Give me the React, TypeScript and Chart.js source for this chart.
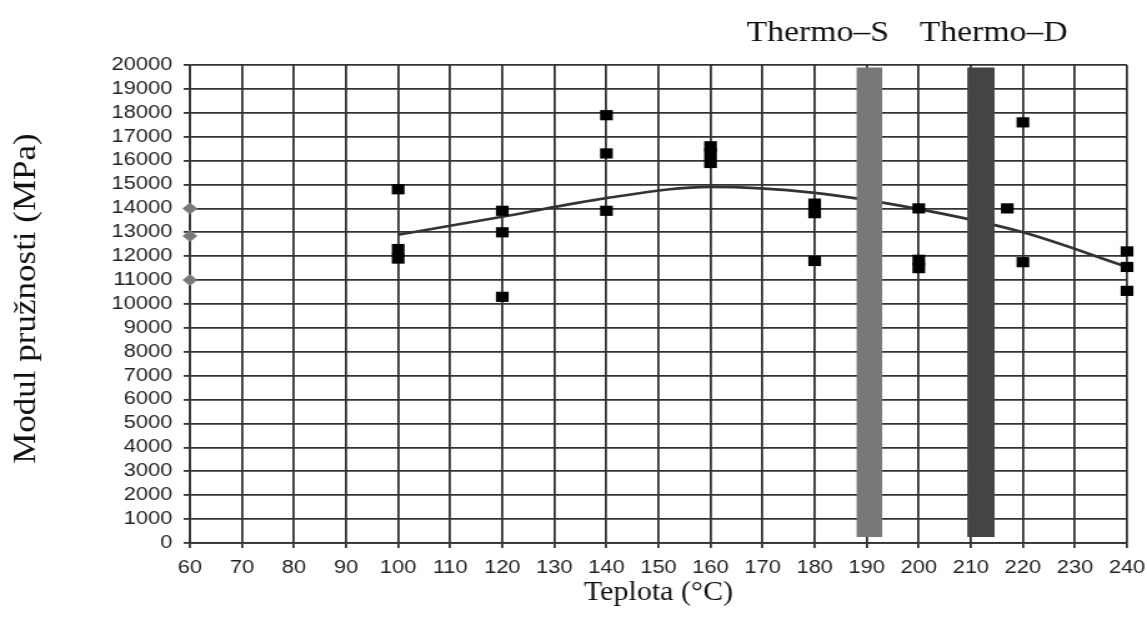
import { useEffect, useRef } from 'react';
import { Chart, registerables } from 'chart.js';

Chart.register(...registerables);

// Axis ticks
const xTicks = [60, 70, 80, 90, 100, 110, 120, 130, 140, 150, 160, 170, 180, 190, 200, 210, 220, 230, 240];
const yTicks = [0, 1000, 2000, 3000, 4000, 5000, 6000, 7000, 8000, 9000, 10000, 11000, 12000, 13000, 14000, 15000, 16000, 17000, 18000, 19000, 20000];

// Measured specimens: temperature (°C) and modulus of elasticity (MPa)
const sampleTemps = [100, 100, 100, 120, 120, 120, 140, 140, 140, 160, 160, 160, 180, 180, 180, 200, 200, 200, 217, 220, 220, 240, 240, 240];
const sampleModulus = [14800, 12300, 11900, 13900, 13000, 10300, 17900, 16300, 13900, 16600, 16300, 15900, 14200, 13800, 11800, 14000, 11850, 11500, 14000, 17600, 11750, 12200, 11550, 10550];

// Untreated reference specimens
const referenceTemps = [60, 60, 60];
const referenceModulus = [14000, 12850, 11000];

// Smoothed trend
const trendTemps = [100, 120, 140, 160, 180, 200, 220, 240];
const trendModulus = [12900, 13650, 14430, 14900, 14650, 13970, 13000, 11550];

// Treatment zones
const zoneNames = ['Thermo–S', 'Thermo–D'];
const zoneFrom = [188, 209.3];
const zoneTo = [193, 214.6];
const zoneLow = 250;
const zoneHigh = 19900;
const zoneColors = ['#787878', '#444444'];
const zoneLabelAt = [180.6, 214.4];

const xTitle = 'Teplota (°C)';
const yTitle = 'Modul pružnosti (MPa)';

const CANVAS_W = 918;
const CANVAS_H = 625;
const STRETCH = 1147 / CANVAS_W;

const tickFont = { family: '"Liberation Sans", Arial, sans-serif', size: 17.5 };
const serif = '"Liberation Serif", "Times New Roman", serif';

// Serif captions are drawn narrower so the page stretch leaves them at natural proportions.
function caption(
  ctx: CanvasRenderingContext2D,
  text: string,
  x: number,
  y: number,
  size: number,
  squeeze: number,
  rotate = false,
) {
  ctx.save();
  ctx.translate(x, y);
  ctx.scale(squeeze, 1);
  if (rotate) ctx.rotate(-Math.PI / 2);
  ctx.font = `${size}px ${serif}`;
  ctx.fillStyle = '#111';
  ctx.textAlign = 'center';
  ctx.textBaseline = rotate ? 'middle' : 'alphabetic';
  ctx.fillText(text, 0, 0);
  ctx.restore();
}

const textPlugin = {
  id: 'serifTexts',
  afterDraw(chart: any) {
    const ctx = chart.ctx as CanvasRenderingContext2D;
    const xs = chart.scales.x;
    const area = chart.chartArea;
    zoneNames.forEach((name, i) => {
      caption(ctx, name, xs.getPixelForValue(zoneLabelAt[i]), 41, 30, 0.9);
    });
    caption(ctx, xTitle, (area.left + area.right) / 2, 600, 27, 0.89);
    caption(ctx, yTitle, 21.6, (area.top + area.bottom) / 2 - 5.5, 35, 0.74, true);
  },
};

export default function App() {
  const ref = useRef<HTMLCanvasElement>(null);

  useEffect(() => {
    const zones = zoneNames.map((name, i) => ({
      type: 'line' as const,
      label: name,
      data: [
        { x: zoneFrom[i], y: zoneHigh },
        { x: zoneTo[i], y: zoneHigh },
      ],
      showLine: true,
      fill: { value: zoneLow },
      backgroundColor: zoneColors[i],
      borderColor: zoneColors[i],
      borderWidth: 0,
      pointRadius: 0,
    }));

    const chart = new Chart(ref.current!, {
      type: 'scatter',
      data: {
        datasets: [
          ...zones,
          {
            type: 'scatter',
            label: 'Vzorky',
            data: sampleTemps.map((t, i) => ({ x: t, y: sampleModulus[i] })),
            pointStyle: 'rect',
            pointRadius: 7.2,
            backgroundColor: '#000',
            borderColor: '#000',
            borderWidth: 0,
            clip: false,
          },
          {
            type: 'scatter',
            label: 'Referenční',
            data: referenceTemps.map((t, i) => ({ x: t, y: referenceModulus[i] })),
            pointStyle: 'rectRot',
            pointRadius: 6,
            backgroundColor: '#7a7a7a',
            borderColor: '#7a7a7a',
            borderWidth: 0,
            clip: false,
          },
          {
            type: 'line',
            label: 'Trend',
            data: trendTemps.map((t, i) => ({ x: t, y: trendModulus[i] })),
            showLine: true,
            borderColor: '#333',
            borderWidth: 2.6,
            cubicInterpolationMode: 'monotone',
            pointRadius: 0,
            fill: false,
          },
        ] as any,
      },
      options: {
        responsive: false,
        animation: false,
        layout: { padding: { top: 65, right: 16, left: 0, bottom: 0 } },
        plugins: {
          legend: { display: false },
          tooltip: { enabled: false },
        },
        scales: {
          x: {
            type: 'linear',
            min: 60,
            max: 240,
            afterBuildTicks: (axis: any) => {
              axis.ticks = xTicks.map((value) => ({ value }));
            },
            afterFit: (axis: any) => {
              axis.height = 82;
              axis.paddingLeft = 0;
              axis.paddingRight = 0;
            },
            ticks: {
              autoSkip: false,
              maxRotation: 0,
              padding: 10,
              color: '#222',
              font: tickFont,
            },
            grid: { color: '#333', lineWidth: 1.8, tickLength: 5, drawTicks: true },
            border: { color: '#333', width: 1.8 },
          },
          y: {
            type: 'linear',
            min: 0,
            max: 20000,
            afterBuildTicks: (axis: any) => {
              axis.ticks = yTicks.map((value) => ({ value }));
            },
            afterFit: (axis: any) => {
              axis.width = 152;
              axis.paddingTop = 0;
              axis.paddingBottom = 0;
            },
            ticks: {
              autoSkip: false,
              padding: 9,
              color: '#222',
              font: tickFont,
              callback: (v: any) => String(v),
            },
            grid: { color: '#333', lineWidth: 1.8, tickLength: 5, drawTicks: true },
            border: { color: '#333', width: 1.8 },
          },
        },
      } as any,
      plugins: [textPlugin],
    });
    return () => chart.destroy();
  }, []);

  return (
    <div
      style={{
        position: 'fixed',
        left: 0,
        top: 0,
        width: 1147,
        height: 625,
        overflow: 'hidden',
        background: '#fff',
      }}
    >
      <div
        style={{
          width: CANVAS_W,
          height: CANVAS_H,
          transform: `scaleX(${STRETCH})`,
          transformOrigin: '0 0',
        }}
      >
        <canvas ref={ref} width={CANVAS_W} height={CANVAS_H} style={{ display: 'block' }} />
      </div>
    </div>
  );
}
